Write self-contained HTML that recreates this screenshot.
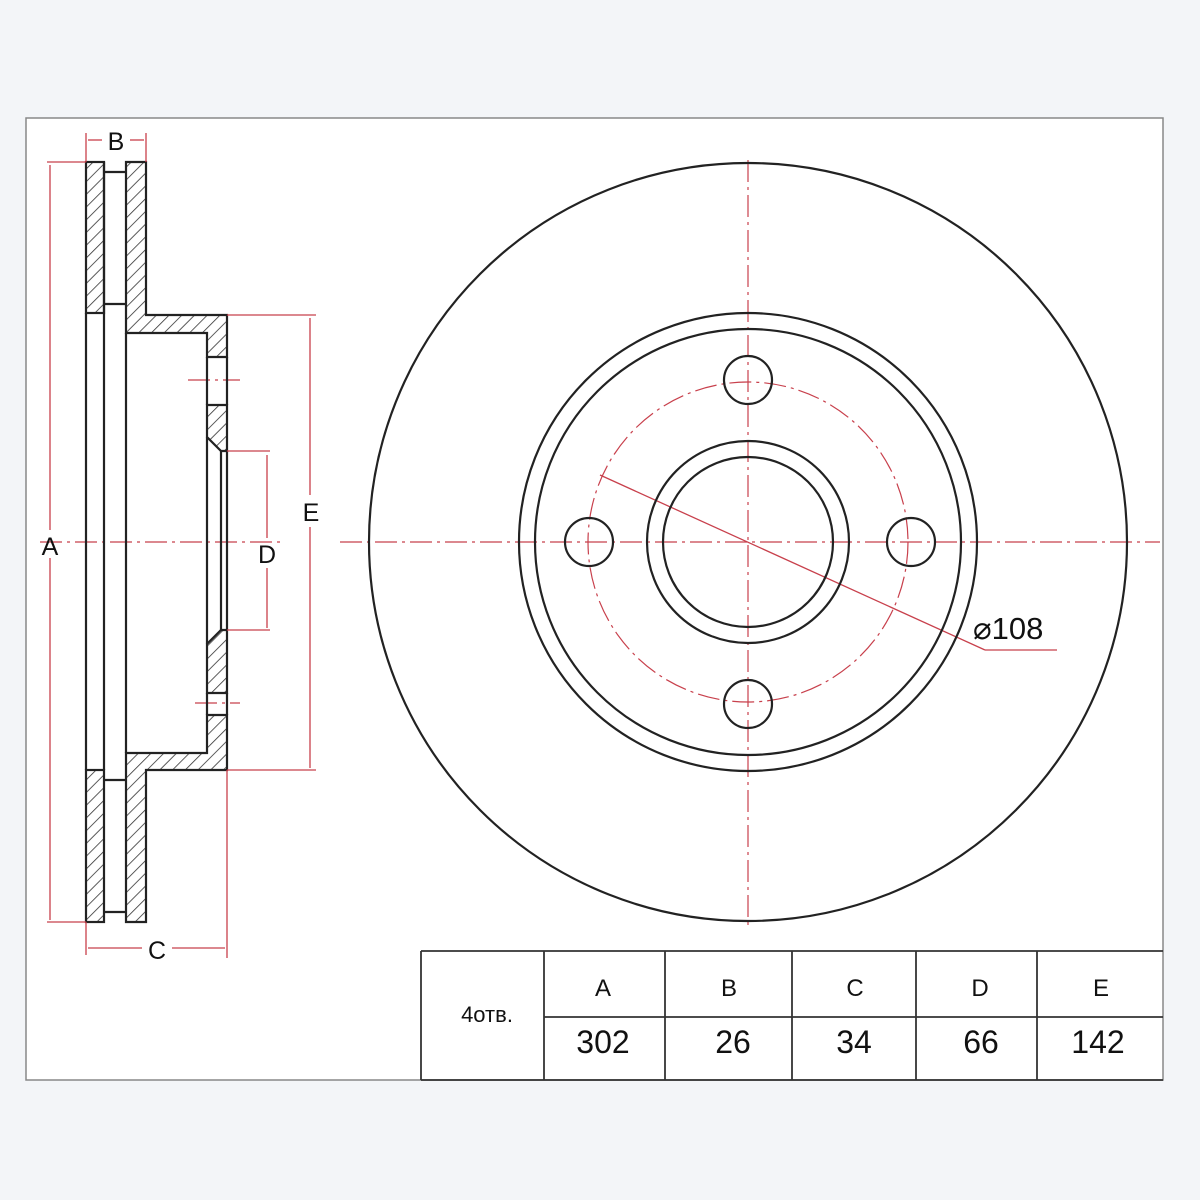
<!DOCTYPE html>
<html><head><meta charset="utf-8"><style>
html,body{margin:0;padding:0;background:#f3f5f8;}
svg{display:block}
text{font-family:"Liberation Sans",sans-serif;fill:#111}
</style></head><body>
<svg width="1200" height="1200" viewBox="0 0 1200 1200" xmlns="http://www.w3.org/2000/svg">
<defs>
<pattern id="h" width="9" height="9" patternUnits="userSpaceOnUse" patternTransform="rotate(45)">
<line x1="0" y1="0" x2="0" y2="9" stroke="#333" stroke-width="1.6"/>
</pattern>
</defs>
<rect x="0" y="0" width="1200" height="1200" fill="#f3f5f8"/>
<rect x="26" y="118" width="1137" height="962" fill="#fff" stroke="#888" stroke-width="1.5"/>

<g stroke="#c8404c" stroke-width="1.2" stroke-dasharray="22,5,3,5" fill="none">
<line x1="40" y1="542" x2="285" y2="542"/>
<line x1="188" y1="380" x2="240" y2="380"/>
<line x1="195" y1="703" x2="240" y2="703"/>
<line x1="340" y1="542" x2="1160" y2="542"/>
<line x1="748" y1="160" x2="748" y2="926"/>
<circle cx="748" cy="542" r="160"/>
</g>

<g stroke="#222" stroke-width="2.2" fill="url(#h)" stroke-linejoin="miter">
<rect x="86" y="162" width="18" height="151"/>
<rect x="86" y="770" width="18" height="152"/>
<polygon points="126,162 146,162 146,315 227,315 227,357 207,357 207,333 126,333"/>
<polygon points="207,405 227,405 227,451 221,451 207,437"/>
<polygon points="126,922 146,922 146,770 227,770 227,715 207,715 207,753 126,753"/>
<polygon points="207,693 227,693 227,630 221,630 207,644"/>
</g>
<g stroke="#222" stroke-width="2.2" fill="none">
<line x1="86" y1="313" x2="86" y2="770"/>
<line x1="104" y1="313" x2="104" y2="770"/>
<line x1="126" y1="333" x2="126" y2="753"/>
<line x1="104" y1="172" x2="126" y2="172"/>
<line x1="104" y1="304" x2="126" y2="304"/>
<line x1="104" y1="780" x2="126" y2="780"/>
<line x1="104" y1="912" x2="126" y2="912"/>
<line x1="104" y1="162" x2="104" y2="313"/>
<line x1="207" y1="357" x2="207" y2="405"/>
<line x1="227" y1="357" x2="227" y2="405"/>
<line x1="207" y1="437" x2="207" y2="644"/>
<line x1="227" y1="451" x2="227" y2="630"/>
<line x1="221" y1="451" x2="221" y2="630"/>
<line x1="207" y1="715" x2="207" y2="693"/>
<line x1="227" y1="715" x2="227" y2="693"/>
</g>

<g stroke="#c8404c" stroke-width="1.3" fill="none">
<line x1="47" y1="162" x2="86" y2="162"/>
<line x1="47" y1="922" x2="86" y2="922"/>
<line x1="50" y1="165" x2="50" y2="530"/>
<line x1="50" y1="558" x2="50" y2="920"/>
<line x1="86" y1="133" x2="86" y2="162"/>
<line x1="146" y1="133" x2="146" y2="162"/>
<line x1="88" y1="140" x2="102" y2="140"/>
<line x1="130" y1="140" x2="144" y2="140"/>
<line x1="86" y1="922" x2="86" y2="955"/>
<line x1="227" y1="770" x2="227" y2="958"/>
<line x1="88" y1="948" x2="142" y2="948"/>
<line x1="172" y1="948" x2="225" y2="948"/>
<line x1="227" y1="315" x2="316" y2="315"/>
<line x1="227" y1="770" x2="316" y2="770"/>
<line x1="310" y1="318" x2="310" y2="495"/>
<line x1="310" y1="527" x2="310" y2="768"/>
<line x1="227" y1="451" x2="270" y2="451"/>
<line x1="227" y1="630" x2="270" y2="630"/>
<line x1="267" y1="455" x2="267" y2="538"/>
<line x1="267" y1="568" x2="267" y2="628"/>
<line x1="600" y1="475" x2="985" y2="650"/>
<line x1="985" y1="650" x2="1057" y2="650"/>
</g>
<text x="50" y="555" font-size="25" text-anchor="middle">A</text>
<text x="116" y="150" font-size="25" text-anchor="middle">B</text>
<text x="157" y="959" font-size="25" text-anchor="middle">C</text>
<text x="267" y="563" font-size="25" text-anchor="middle">D</text>
<text x="311" y="521" font-size="25" text-anchor="middle">E</text>

<g stroke="#222" stroke-width="2.2" fill="none">
<circle cx="748" cy="542" r="379"/>
<circle cx="748" cy="542" r="229"/>
<circle cx="748" cy="542" r="213"/>
<circle cx="748" cy="542" r="101"/>
<circle cx="748" cy="542" r="85"/>
<circle cx="748" cy="380" r="24"/>
<circle cx="748" cy="704" r="24"/>
<circle cx="589" cy="542" r="24"/>
<circle cx="911" cy="542" r="24"/>
</g>
<text x="973" y="639" font-size="31">⌀108</text>

<g stroke="#333" stroke-width="1.8" fill="none">
<line x1="421" y1="951" x2="1163" y2="951"/>
<line x1="421" y1="1080" x2="1163" y2="1080"/>
<line x1="544" y1="1017" x2="1163" y2="1017"/>
<line x1="421" y1="951" x2="421" y2="1080"/>
<line x1="544" y1="951" x2="544" y2="1080"/>
<line x1="665" y1="951" x2="665" y2="1080"/>
<line x1="792" y1="951" x2="792" y2="1080"/>
<line x1="916" y1="951" x2="916" y2="1080"/>
<line x1="1037" y1="951" x2="1037" y2="1080"/>
</g>
<text x="487" y="1022" font-size="22" text-anchor="middle">4отв.</text>
<g font-size="24" text-anchor="middle">
<text x="603" y="996">A</text><text x="729" y="996">B</text><text x="855" y="996">C</text><text x="980" y="996">D</text><text x="1101" y="996">E</text>
</g>
<g font-size="32" text-anchor="middle">
<text x="603" y="1053">302</text><text x="733" y="1053">26</text><text x="854" y="1053">34</text><text x="981" y="1053">66</text><text x="1098" y="1053">142</text>
</g>
</svg>
</body></html>
